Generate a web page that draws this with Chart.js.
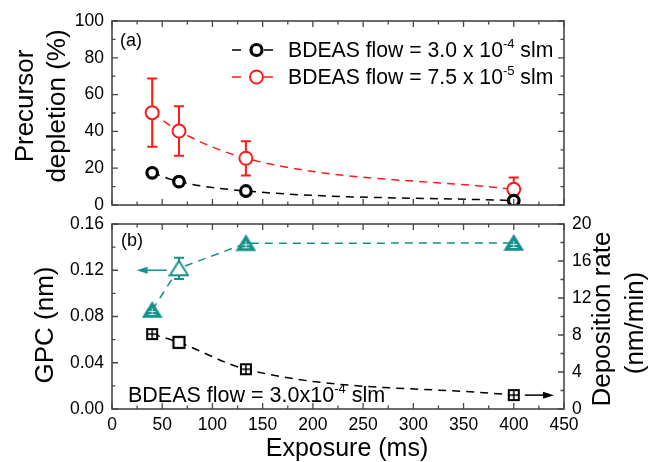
<!DOCTYPE html>
<html>
<head>
<meta charset="utf-8">
<script src="https://cdn.jsdelivr.net/npm/chart.js@4.4.0/dist/chart.umd.min.js"></script>
<style>
  html, body { margin: 0; padding: 0; background: #fff; }
  .wrap { position: relative; width: 651px; height: 462px; }
  #top-box { position: absolute; left: 0; top: 0; }
  #bottom-box { position: absolute; left: 0; top: 216px; }
  canvas { display: block; }
</style>
</head>
<body>
<div class="wrap">
  <div id="top-box"><canvas id="depletion-chart" width="651" height="216"></canvas></div>
  <div id="bottom-box"><canvas id="gpc-chart" width="651" height="246"></canvas></div>
</div>
<script>
// exposure times (ms)
const exposure = [40, 66.7, 133.3, 400];

// (a) precursor depletion (%)
const depletionHighFlow = [17.5, 12.7, 7.6, 2.4]; // 3.0e-4 slm
const depletionLowFlow = [50.2, 40.2, 25.4, 8.5]; // 7.5e-5 slm
const depletionLowFlowErr = [18.5, 13.5, 9.3, 6.5];

// (b) growth per cycle (nm) and deposition rate (nm/min)
const gpc = [0.0856, 0.1217, 0.1433, 0.1436];
const gpcErr = [0, 0.0092, 0, 0];
const depositionRate = [8.1, 7.2, 4.3, 1.5];

// tick labels
const exposureTicks = [0, 50, 100, 150, 200, 250, 300, 350, 400, 450];
const depletionTicks = [0, 20, 40, 60, 80, 100];
const gpcTicks = [0, 0.04, 0.08, 0.12, 0.16];
const rateTicks = [0, 4, 8, 12, 16, 20];

const FONT = "'Liberation Sans', Arial, sans-serif";
const teal = "#16908b";
const red = "#ff1a1a";

Chart.defaults.font.family = FONT;
Chart.defaults.color = "#000";

function pts(ys) {
  return exposure.map((x, i) => ({ x: x, y: ys[i] }));
}

function markerCanvas(w, h, draw) {
  const c = document.createElement("canvas");
  c.width = w;
  c.height = h;
  draw(c.getContext("2d"));
  return c;
}

const triFilled = markerCanvas(21, 18, (g) => {
  g.beginPath();
  g.moveTo(10.5, 1.5);
  g.lineTo(19.5, 16);
  g.lineTo(1.5, 16);
  g.closePath();
  g.fillStyle = teal;
  g.fill();
  g.strokeStyle = teal;
  g.lineWidth = 1.5;
  g.stroke();
  g.strokeStyle = "rgba(255,255,255,0.75)";
  g.lineWidth = 1;
  g.beginPath();
  g.moveTo(7, 10.5); g.lineTo(14, 10.5);
  g.moveTo(7, 13.5); g.lineTo(14, 13.5);
  g.moveTo(10.5, 7); g.lineTo(10.5, 14);
  g.stroke();
});

const triOpen = markerCanvas(21, 18, (g) => {
  g.beginPath();
  g.moveTo(10.5, 1.5);
  g.lineTo(19.5, 16);
  g.lineTo(1.5, 16);
  g.closePath();
  g.fillStyle = "#fff";
  g.fill();
  g.strokeStyle = teal;
  g.lineWidth = 2;
  g.stroke();
});

const sqCross = markerCanvas(14, 14, (g) => {
  g.fillStyle = "#fff";
  g.fillRect(2, 2, 10, 10);
  g.strokeStyle = "#000";
  g.lineWidth = 2;
  g.strokeRect(2, 2, 10, 10);
  g.lineWidth = 1.5;
  g.beginPath();
  g.moveTo(7, 2); g.lineTo(7, 12);
  g.moveTo(2, 7); g.lineTo(12, 7);
  g.stroke();
});

const sqOpen = markerCanvas(15, 15, (g) => {
  g.fillStyle = "#fff";
  g.fillRect(2, 2, 11, 11);
  g.strokeStyle = "#000";
  g.lineWidth = 2.2;
  g.strokeRect(2, 2, 11, 11);
});

// text with one superscript piece, left aligned at x, alphabetic baseline at y
function drawRich(ctx, parts, x, y, size) {
  let cx = x;
  ctx.textAlign = "left";
  ctx.textBaseline = "alphabetic";
  for (const p of parts) {
    const fs = p.sup ? Math.round(size * 0.62) : size;
    ctx.font = fs + "px " + FONT;
    ctx.fillText(p.t, cx, p.sup ? y - size * 0.42 : y);
    cx += ctx.measureText(p.t).width;
  }
}

function rotatedText(ctx, text, baselineX, centerY, size) {
  ctx.save();
  ctx.translate(baselineX, centerY);
  ctx.rotate(-Math.PI / 2);
  ctx.font = size + "px " + FONT;
  ctx.textAlign = "center";
  ctx.textBaseline = "alphabetic";
  ctx.fillStyle = "#000";
  ctx.fillText(text, 0, 0);
  ctx.restore();
}

function setTicks(values) {
  return (scale) => {
    scale.ticks = values.map((v) => ({ value: v }));
  };
}

function fixWidth(w) {
  return (scale) => {
    scale.width = w;
    scale.paddingTop = 0;
    scale.paddingBottom = 0;
  };
}

// box round the plot with inward major and minor ticks
const framePlugin = {
  id: "frame",
  afterDatasetsDraw(chart) {
    const { ctx, chartArea: a, scales } = chart;
    const right = scales.y2 || scales.y;
    ctx.save();
    ctx.strokeStyle = "#474747";
    ctx.lineWidth = 1.3;

    const withMinor = (values) => {
      const out = [];
      values.forEach((v, i) => {
        out.push([v, 6]);
        if (i < values.length - 1) out.push([(v + values[i + 1]) / 2, 3.5]);
      });
      return out;
    };

    ctx.beginPath();
    for (const [v, len] of withMinor(exposureTicks)) {
      const px = scales.x.getPixelForValue(v);
      ctx.moveTo(px, a.bottom);
      ctx.lineTo(px, a.bottom - len);
      ctx.moveTo(px, a.top);
      ctx.lineTo(px, a.top + len);
    }
    for (const [v, len] of withMinor(scales.y.ticks.map((t) => t.value))) {
      const py = scales.y.getPixelForValue(v);
      ctx.moveTo(a.left, py);
      ctx.lineTo(a.left + len, py);
    }
    for (const [v, len] of withMinor(right.ticks.map((t) => t.value))) {
      const py = right.getPixelForValue(v);
      ctx.moveTo(a.right, py);
      ctx.lineTo(a.right - len, py);
    }
    ctx.stroke();
    ctx.lineWidth = 1.6;
    ctx.strokeRect(a.left, a.top, a.right - a.left, a.bottom - a.top);
    ctx.restore();
  },
};

const errorBars = {
  id: "errorBars",
  beforeDatasetsDraw(chart) {
    const { ctx } = chart;
    chart.data.datasets.forEach((ds, i) => {
      if (!ds.errors) return;
      const meta = chart.getDatasetMeta(i);
      const yScale = chart.scales[meta.yAxisID];
      ctx.save();
      ctx.strokeStyle = ds.borderColor;
      ctx.lineWidth = 2;
      ctx.beginPath();
      meta.data.forEach((pt, j) => {
        const e = ds.errors[j];
        if (!e) return;
        const v = ds.data[j].y;
        const top = yScale.getPixelForValue(v + e);
        const bot = yScale.getPixelForValue(v - e);
        ctx.moveTo(pt.x, top);
        ctx.lineTo(pt.x, bot);
        ctx.moveTo(pt.x - 5, top);
        ctx.lineTo(pt.x + 5, top);
        ctx.moveTo(pt.x - 5, bot);
        ctx.lineTo(pt.x + 5, bot);
      });
      ctx.stroke();
      ctx.restore();
    });
  },
};

const topDecor = {
  id: "topDecor",
  afterDraw(chart) {
    const { ctx } = chart;
    ctx.save();
    ctx.fillStyle = "#000";
    ctx.font = "18px " + FONT;
    ctx.textAlign = "left";
    ctx.textBaseline = "alphabetic";
    ctx.fillText("(a)", 120, 46);

    // legend
    const rows = [
      { color: "#000", width: 3.2, y: 50, sup: "-4", base: "3.0 x 10" },
      { color: red, width: 2, y: 77, sup: "-5", base: "7.5 x 10" },
    ];
    for (const r of rows) {
      ctx.strokeStyle = r.color;
      ctx.lineWidth = 1.5;
      ctx.beginPath();
      ctx.moveTo(232, r.y);
      ctx.lineTo(241, r.y);
      ctx.moveTo(264, r.y);
      ctx.lineTo(273, r.y);
      ctx.stroke();
      ctx.lineWidth = r.width;
      ctx.fillStyle = "#fff";
      ctx.beginPath();
      ctx.arc(256.5, r.y, r.color === "#000" ? 5.5 : 6.5, 0, Math.PI * 2);
      ctx.fill();
      ctx.stroke();
      ctx.fillStyle = "#000";
      drawRich(ctx, [{ t: "BDEAS flow = " + r.base }, { t: r.sup, sup: true }, { t: " slm" }], 288, r.y + 7, 21.2);
    }

    rotatedText(ctx, "Precursor", 33, 106, 26);
    rotatedText(ctx, "depletion (%)", 65, 106, 26);
    ctx.restore();
  },
};

const bottomDecor = {
  id: "bottomDecor",
  afterDatasetsDraw(chart) {
    const { ctx, scales } = chart;
    const arrow = (x0, x1, y, color) => {
      ctx.strokeStyle = color;
      ctx.fillStyle = color;
      ctx.lineWidth = 1.5;
      const dir = Math.sign(x1 - x0);
      ctx.beginPath();
      ctx.moveTo(x0, y);
      ctx.lineTo(x1 - dir * 8, y);
      ctx.stroke();
      ctx.beginPath();
      ctx.moveTo(x1, y);
      ctx.lineTo(x1 - dir * 11, y - 3.5);
      ctx.lineTo(x1 - dir * 11, y + 3.5);
      ctx.closePath();
      ctx.fill();
    };
    ctx.save();
    arrow(scales.x.getPixelForValue(54.5), scales.x.getPixelForValue(24.5), scales.y.getPixelForValue(0.12), teal);
    arrow(scales.x.getPixelForValue(411), scales.x.getPixelForValue(440), scales.y2.getPixelForValue(1.5), "#000");
    ctx.restore();
  },
  afterDraw(chart) {
    const { ctx } = chart;
    ctx.save();
    ctx.fillStyle = "#000";
    ctx.font = "18px " + FONT;
    ctx.textAlign = "left";
    ctx.textBaseline = "alphabetic";
    ctx.fillText("(b)", 121, 30);
    drawRich(ctx, [{ t: "BDEAS flow = 3.0x10" }, { t: "-4", sup: true }, { t: " slm" }], 128, 186, 21.5);

    rotatedText(ctx, "GPC (nm)", 53, 109, 26);
    rotatedText(ctx, "Deposition rate", 610, 103, 26);
    rotatedText(ctx, "(nm/min)", 643, 107, 26);

    ctx.font = "25px " + FONT;
    ctx.textAlign = "center";
    ctx.fillText("Exposure (ms)", 347, 240);
    ctx.restore();
  },
};

const tickFont = { size: 17.5 };

new Chart(document.getElementById("depletion-chart"), {
  type: "line",
  data: {
    datasets: [
      {
        label: "BDEAS flow = 3.0 x 10^-4 slm",
        data: pts(depletionHighFlow),
        borderColor: "#000",
        borderWidth: 1.5,
        borderDash: [8, 6],
        cubicInterpolationMode: "monotone",
        pointStyle: "circle",
        pointRadius: 5.3,
        pointBorderWidth: 3.2,
        pointBackgroundColor: "#fff",
        pointBorderColor: "#000",
      },
      {
        label: "BDEAS flow = 7.5 x 10^-5 slm",
        data: pts(depletionLowFlow),
        errors: depletionLowFlowErr,
        borderColor: red,
        borderWidth: 1.5,
        borderDash: [8, 6],
        cubicInterpolationMode: "monotone",
        pointStyle: "circle",
        pointRadius: 6.5,
        pointBorderWidth: 2,
        pointBackgroundColor: "#fff",
        pointBorderColor: red,
      },
    ],
  },
  options: {
    responsive: false,
    animation: false,
    layout: { padding: { top: 21, right: 87, bottom: 11, left: 0 } },
    plugins: { legend: { display: false }, tooltip: { enabled: false } },
    scales: {
      x: { type: "linear", display: false, min: 0, max: 450, afterBuildTicks: setTicks(exposureTicks) },
      y: {
        min: 0,
        max: 100,
        afterBuildTicks: setTicks(depletionTicks),
        afterFit: fixWidth(112),
        grid: { display: false, drawTicks: false },
        border: { display: false },
        ticks: { padding: 8, font: tickFont, autoSkip: false },
      },
    },
  },
  plugins: [errorBars, framePlugin, topDecor],
});

new Chart(document.getElementById("gpc-chart"), {
  type: "line",
  data: {
    datasets: [
      {
        label: "Deposition rate",
        data: pts(depositionRate),
        yAxisID: "y2",
        borderColor: "#000",
        borderWidth: 1.5,
        borderDash: [8, 6],
        cubicInterpolationMode: "monotone",
        pointStyle: [sqCross, sqOpen, sqCross, sqCross],
      },
      {
        label: "GPC",
        data: pts(gpc),
        errors: gpcErr,
        yAxisID: "y",
        borderColor: teal,
        borderWidth: 1.5,
        borderDash: [8, 6],
        pointStyle: [triFilled, triOpen, triFilled, triFilled],
      },
    ],
  },
  options: {
    responsive: false,
    animation: false,
    layout: { padding: { top: 8, right: 0, bottom: 0, left: 0 } },
    plugins: { legend: { display: false }, tooltip: { enabled: false } },
    scales: {
      x: {
        type: "linear",
        min: 0,
        max: 450,
        afterBuildTicks: setTicks(exposureTicks),
        afterFit: (s) => {
          s.height = 53;
          s.paddingLeft = 0;
          s.paddingRight = 0;
        },
        grid: { display: false, drawTicks: false },
        border: { display: false },
        ticks: { padding: 6, font: tickFont, autoSkip: false, maxRotation: 0 },
      },
      y: {
        position: "left",
        min: 0,
        max: 0.16,
        afterBuildTicks: setTicks(gpcTicks),
        afterFit: fixWidth(112),
        grid: { display: false, drawTicks: false },
        border: { display: false },
        ticks: { padding: 8, font: tickFont, autoSkip: false, callback: (v) => v.toFixed(2) },
      },
      y2: {
        position: "right",
        min: 0,
        max: 20,
        afterBuildTicks: setTicks(rateTicks),
        afterFit: fixWidth(87),
        grid: { display: false, drawTicks: false },
        border: { display: false },
        ticks: { padding: 8, font: tickFont, autoSkip: false },
      },
    },
  },
  plugins: [errorBars, framePlugin, bottomDecor],
});
</script>
</body>
</html>
